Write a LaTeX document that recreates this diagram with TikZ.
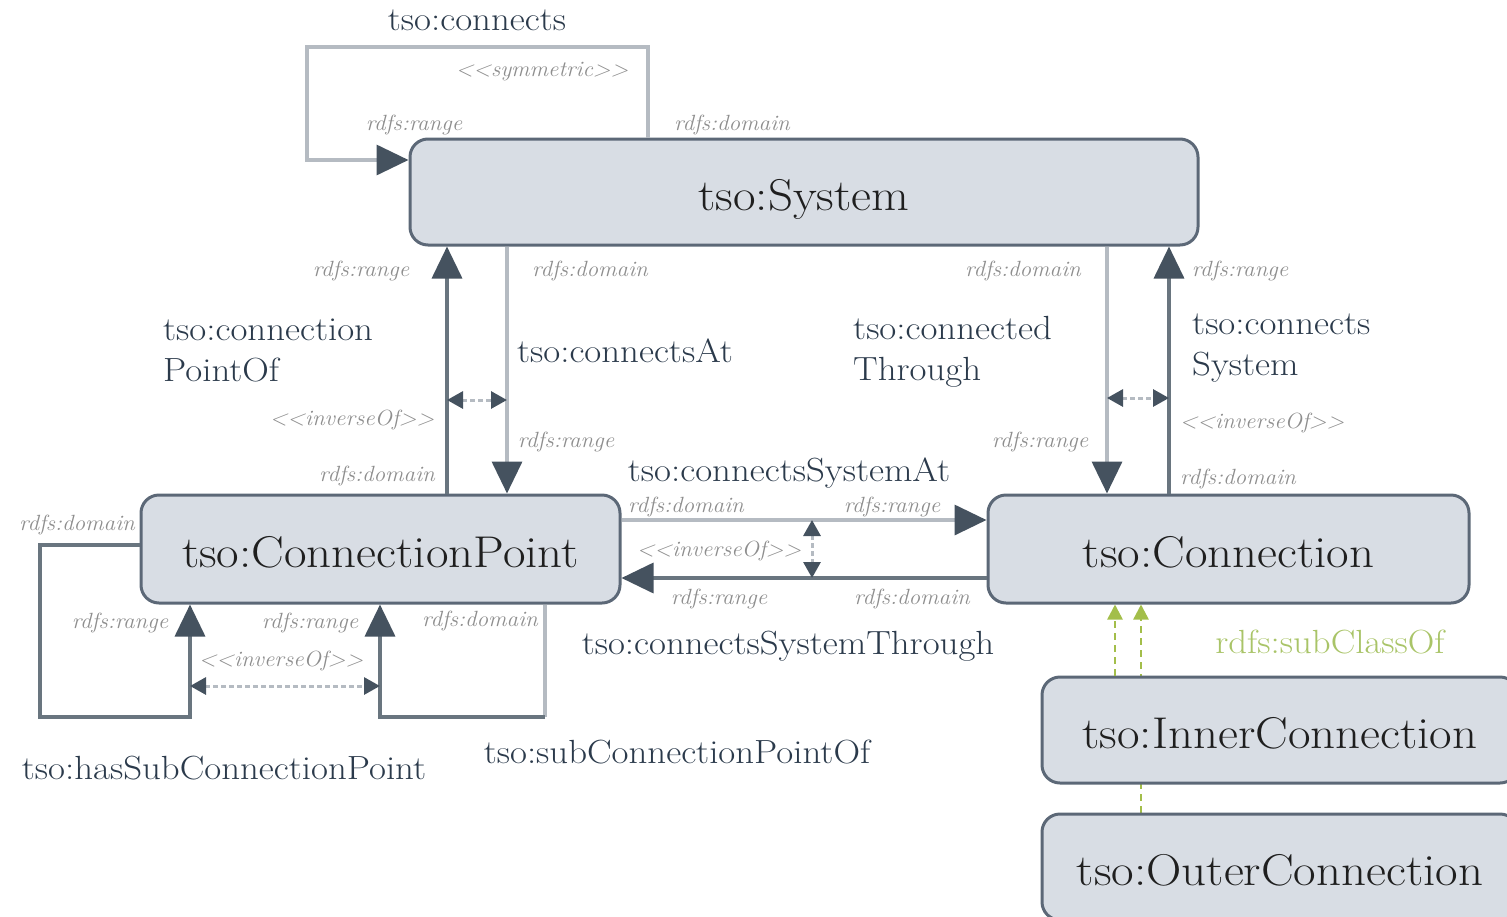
\documentclass[tikz,border=0pt]{standalone}
\usetikzlibrary{arrows.meta}
\pgfdeclarelayer{background}
\pgfsetlayers{background,main}

\definecolor{boxfill}{HTML}{D8DDE4}
\definecolor{boxline}{HTML}{5C6877}
\definecolor{darkline}{HTML}{69757F}
\definecolor{lightline}{HTML}{B5BBC2}
\definecolor{tipcol}{HTML}{45525F}
\definecolor{propcol}{HTML}{2B3A4B}
\definecolor{metacol}{HTML}{8E8E8E}
\definecolor{subcol}{HTML}{A3BE4A}
\definecolor{subtext}{HTML}{A9C468}

% slightly extended lettering
\newcommand\wideA[1]{\scalebox{1.1}[1]{#1}}
\newcommand\wideB[1]{\scalebox{1.05}[1]{#1}}

\tikzset{
  cls/.style={draw=boxline, line width=3pt, fill=boxfill, rounded corners=18pt,
    inner sep=0pt, text=black!88, font=\fontsize{44.5}{50}\selectfont,
    text height=36pt, text depth=0pt},
  dk/.style={draw=darkline, line width=3.5pt},
  lt/.style={draw=lightline, line width=3.5pt},
  tip/.style={-{Triangle[length=32pt,width=30pt,color=tipcol]}},
  inv/.style={draw=lightline, line width=3pt, dash pattern=on 5pt off 3pt,
    {Triangle[length=16pt,width=17pt,color=tipcol]}-{Triangle[length=16pt,width=17pt,color=tipcol]}},
  sub/.style={draw=subcol, line width=2.5pt, dash pattern=on 7pt off 5pt,
    -{Triangle[length=15pt,width=15pt,color=subcol]}},
  prop/.style={inner sep=0pt, text=propcol, font=\fontsize{33.5}{41}\selectfont},
  meta/.style={inner sep=0pt, text=metacol, font=\fontsize{22}{24}\selectfont\itshape},
  subtag/.style={inner sep=0pt, text=subtext, font=\fontsize{33.5}{41}\selectfont},
}

\begin{document}
\begin{tikzpicture}[x=1pt,y=-1pt]
\useasboundingbox (0,0) rectangle (1507,916);
\clip (0,0) rectangle (1507,916);

% classes
\node[cls, minimum width=788pt, minimum height=106pt] (sys) at (804,192) {\wideA{tso:System}};
\node[cls, minimum width=479pt, minimum height=108pt] (cp) at (380.5,549) {\wideA{tso:ConnectionPoint}};
\node[cls, minimum width=481pt, minimum height=108pt] (con) at (1228.5,549) {\wideA{tso:Connection}};
\node[cls, minimum width=476pt, minimum height=106pt] (inner) at (1280,730) {\wideA{tso:InnerConnection}};
\node[cls, minimum width=476pt, minimum height=106pt] (outer) at (1280,867) {\wideA{tso:OuterConnection}};

% tso:connects (symmetric, System to System)
\draw[lt, tip] (648,0 |- sys.north) |- (307,47) |- (sys.west |- 0,160);
\node[prop] (lconnects) at (477,20) {\wideA{tso:connects}};
\node[meta] (lsym) at (542,72) {\wideB{<{}<symmetric>{}>}};
\node[meta] (r1) at (414,125) {\wideB{rdfs:range}};
\node[meta] (d1) at (732,125) {\wideB{rdfs:domain}};

% tso:connectionPointOf / tso:connectsAt
\draw[dk, tip] (447,0 |- cp.north) -- (447,0 |- sys.south);
\draw[lt, tip] (507,0 |- sys.south) -- (507,0 |- cp.north);
\coordinate (i1a) at (447,400);
\coordinate (i1b) at (507,400);
\draw[inv] (i1a) -- (i1b);
\node[meta] (r2) at (361,271) {\wideB{rdfs:range}};
\node[meta] (d2) at (590,271) {\wideB{rdfs:domain}};
\node[prop, align=left, anchor=west] (lcpof) at (163,350) {\wideA{tso:connection}\\\wideA{PointOf}};
\node[prop] (lcat) at (625,351) {\wideA{tso:connectsAt}};
\node[meta] (inv1) at (352,420) {\wideB{<{}<inverseOf>{}>}};
\node[meta] (r3) at (566,442) {\wideB{rdfs:range}};
\node[meta] (d3) at (377,476) {\wideB{rdfs:domain}};

% tso:connectedThrough / tso:connectsSystem
\draw[lt, tip] (1107,0 |- sys.south) -- (1107,0 |- con.north);
\draw[dk, tip] (1169,0 |- con.north) -- (1169,0 |- sys.south);
\coordinate (i2a) at (1107,398);
\coordinate (i2b) at (1169,398);
\draw[inv] (i2a) -- (i2b);
\node[meta] (d4) at (1023,271) {\wideB{rdfs:domain}};
\node[meta] (r4) at (1240,271) {\wideB{rdfs:range}};
\node[prop, align=left, anchor=west] (lcthr) at (853,352) {\wideA{tso:connected}\\\wideA{Through}};
\node[prop, align=left, anchor=west] (lcsys) at (1192,348) {\wideA{tso:connects}\\\wideA{System}};
\node[meta] (inv2) at (1262,423) {\wideB{<{}<inverseOf>{}>}};
\node[meta] (r5) at (1040,442) {\wideB{rdfs:range}};
\node[meta] (d5) at (1238,479) {\wideB{rdfs:domain}};

% tso:connectsSystemAt / tso:connectsSystemThrough
\draw[lt, tip] (cp.east |- 0,520) -- (con.west |- 0,520);
\draw[dk, tip] (con.west |- 0,578) -- (cp.east |- 0,578);
\coordinate (i3a) at (812,520);
\coordinate (i3b) at (812,578);
\draw[inv] (i3a) -- (i3b);
\node[prop] (lcsa) at (789,473) {\wideA{tso:connectsSystemAt}};
\node[meta] (d6) at (686,507) {\wideB{rdfs:domain}};
\node[meta] (r6) at (892,507) {\wideB{rdfs:range}};
\node[meta] (inv3) at (719,551) {\wideB{<{}<inverseOf>{}>}};
\node[meta] (r7) at (719,599) {\wideB{rdfs:range}};
\node[meta] (d7) at (912,599) {\wideB{rdfs:domain}};
\node[prop] (lcst) at (788,646) {\wideA{tso:connectsSystemThrough}};

% tso:hasSubConnectionPoint / tso:subConnectionPointOf
\draw[dk, tip] (cp.west |- 0,545) -| (40,717) -| (190,0 |- cp.south);
\draw[lt] (545,0 |- cp.south) -- (545,717);
\draw[dk, tip] (545,717) -| (380,0 |- cp.south);
\coordinate (i4a) at (190,686);
\coordinate (i4b) at (380,686);
\draw[inv] (i4a) -- (i4b);
\node[meta] (d8) at (77,525) {\wideB{rdfs:domain}};
\node[meta] (r8) at (120,623) {\wideB{rdfs:range}};
\node[meta] (r9) at (310,623) {\wideB{rdfs:range}};
\node[meta] (d9) at (480,621) {\wideB{rdfs:domain}};
\node[meta] (inv4) at (281,661) {\wideB{<{}<inverseOf>{}>}};
\node[prop] (lhas) at (224,768) {\wideA{tso:hasSubConnectionPoint}};
\node[prop] (lsub) at (677,752) {\wideA{tso:subConnectionPointOf}};

% rdfs:subClassOf
\begin{pgfonlayer}{background}
\draw[sub] (1141,0 |- outer.north) -- (1141,0 |- con.south);
\end{pgfonlayer}
\draw[sub] (1115,0 |- inner.north) -- (1115,0 |- con.south);
\node[subtag] (lsc) at (1330,642) {\wideA{rdfs:subClassOf}};
\end{tikzpicture}
\end{document}
